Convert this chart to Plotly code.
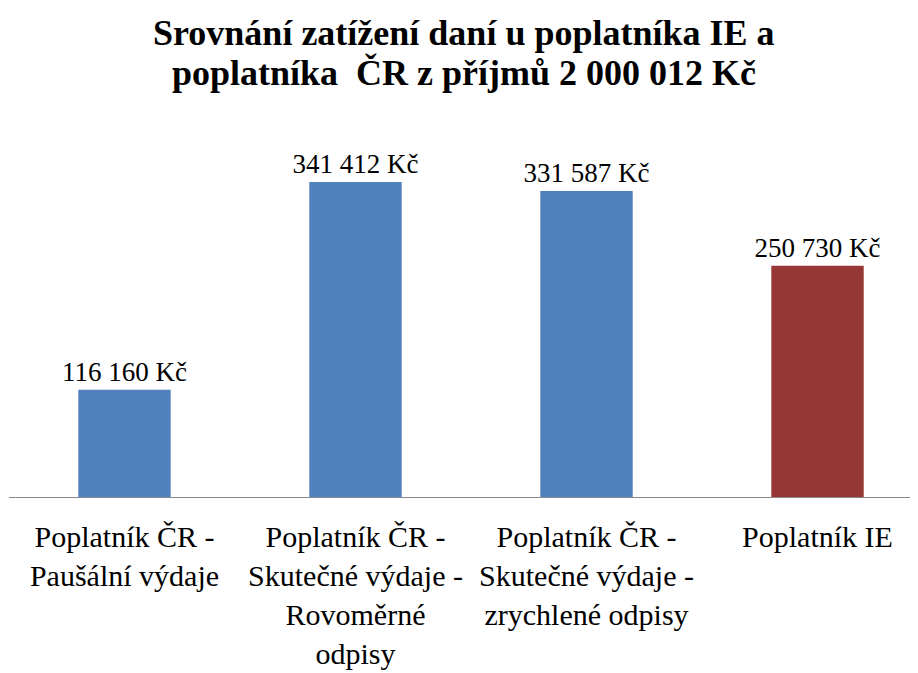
import plotly.graph_objs as go


# ---- data
categories = [
    "Poplatník ČR -<br>Paušální výdaje",
    "Poplatník ČR -<br>Skutečné výdaje -<br>Rovoměrné<br>odpisy",
    "Poplatník ČR -<br>Skutečné výdaje -<br>zrychlené odpisy",
    "Poplatník IE",
]
tax_burden = [116160, 341412, 331587, 250730]
bar_colors = ["#4F81BD", "#4F81BD", "#4F81BD", "#953735"]
title_lines = [
    "Srovnání zatížení daní u poplatníka IE a",
    "poplatníka  ČR z příjmů 2 000 012 Kč",
]


def czk(v):
    return "{:,}".format(v).replace(",", " ") + " Kč"


FONT = "Liberation Serif"

# page body has an 8px margin, so the figure is drawn 8px in from the corner
trace = go.Bar(
    x=list(range(len(categories))),
    y=tax_burden,
    text=[czk(v) for v in tax_burden],
    textposition="outside",
    constraintext="none",
    textfont=dict(family=FONT, size=27, color="#000000"),
    marker=dict(color=bar_colors, line=dict(width=0)),
    width=0.4,
    cliponaxis=False,
    hoverinfo="skip",
)

# title as two separate lines so the line gap can be kept tight
title_annots = []
for line, ypos in zip(title_lines, [1.257, 1.149]):
    title_annots.append(dict(
        text="<b>" + line + "</b>",
        font=dict(family=FONT, size=36, color="#000000"),
        xref="paper",
        yref="paper",
        x=0.5,
        y=ypos,
        xanchor="center",
        yanchor="middle",
        showarrow=False,
    ))

layout = go.Layout(
    width=910,
    height=665,
    paper_bgcolor="white",
    plot_bgcolor="white",
    margin=dict(l=1, r=0, t=120, b=176),
    annotations=title_annots,
    xaxis=dict(
        tickmode="array",
        tickvals=list(range(len(categories))),
        ticktext=categories,
        range=[-0.5, 3.435],
        showline=True,
        linecolor="#898989",
        linewidth=1,
        showgrid=False,
        zeroline=False,
        ticks="",
        automargin=False,
        ticklabelstandoff=13,
        tickfont=dict(family=FONT, size=30, color="#000000"),
        fixedrange=True,
    ),
    yaxis=dict(
        range=[0, 400000],
        visible=False,
        automargin=False,
        fixedrange=True,
    ),
    showlegend=False,
)

fig = go.Figure(data=[trace], layout=layout)
fig.write_html("out.html")
